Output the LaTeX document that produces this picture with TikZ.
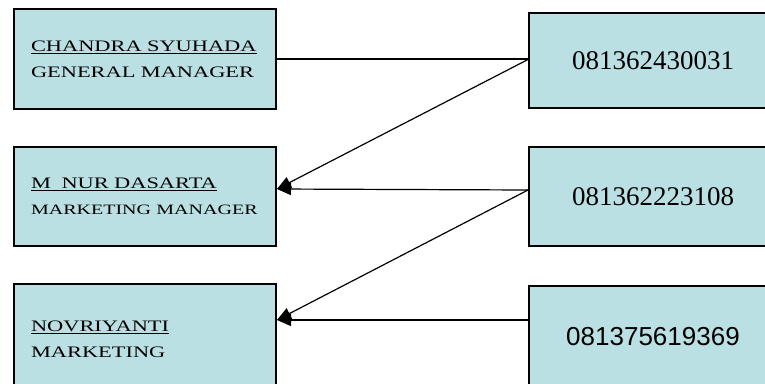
\documentclass[tikz,border=0pt]{standalone}
\usepackage{fontspec}
\usepackage{tikz}
\usetikzlibrary{arrows.meta}
\usepackage{xcolor}

\newfontfamily\staffont[FakeStretch=1.4]{Liberation Serif}
\newfontfamily\phoneserif{Liberation Serif}
\newfontfamily\phonesans{Liberation Sans}
\definecolor{boxblue}{RGB}{187,224,227}

\begin{document}
\begin{tikzpicture}[x=1pt,y=-1pt,
  staff/.style={draw, line width=2pt, fill=boxblue, anchor=north west,
    minimum width=262pt, minimum height=#1, text width=228pt, inner xsep=17pt,
    align=left, font=\staffont\fontsize{16}{26}\selectfont},
  staff/.default=100pt,
  phone/.style={draw, line width=2pt, fill=boxblue, anchor=north west,
    minimum width=248pt, minimum height=#1, inner sep=0pt, font=\fontsize{26}{30}\selectfont},
  phone/.default=96pt,
  link/.style={line width=1.2pt},
  tip/.style={link, -{Triangle[length=14pt,width=12pt]}}]

  \clip (0,0) rectangle (765,383);
  \fill[white] (0,0) rectangle (765,383);

  % people
  \node[staff=100pt] (chandra) at (13,8) {\underline{CHANDRA SYUHADA}\\GENERAL MANAGER};
  \node[staff=99pt] (nur) at (13,146) {\underline{M\ \ NUR DASARTA}\\{\fontsize{14.3}{26}\selectfont MARKETING MANAGER}};
  \node[staff=110pt] (novri) at (13,283) {\underline{NOVRIYANTI}\\MARKETING};

  % phone numbers
  \node[phone=95pt] (hp1) at (528,12) {\phoneserif\fontsize{27}{30}\selectfont 081362430031};
  \node[phone=99pt] (hp2) at (528,146) {\phoneserif\fontsize{27}{30}\selectfont 081362223108};
  \node[phone=102pt] (hp3) at (528,285) {\phonesans 081375619369};

  % connectors
  \draw[link] (chandra.east) -- (chandra.east -| hp1.west);
  \draw[tip] ([yshift=1pt]hp1.west) -- ([yshift=7.5pt]nur.east);
  \draw[tip] ([yshift=6.5pt]hp2.west) -- ([yshift=7.5pt]nur.east);
  \draw[tip] ([yshift=6.5pt]hp2.west) -- ([yshift=19pt]novri.east);
  \draw[tip] ([yshift=17pt]hp3.west) -- ([yshift=19pt]novri.east);
\end{tikzpicture}
\end{document}
